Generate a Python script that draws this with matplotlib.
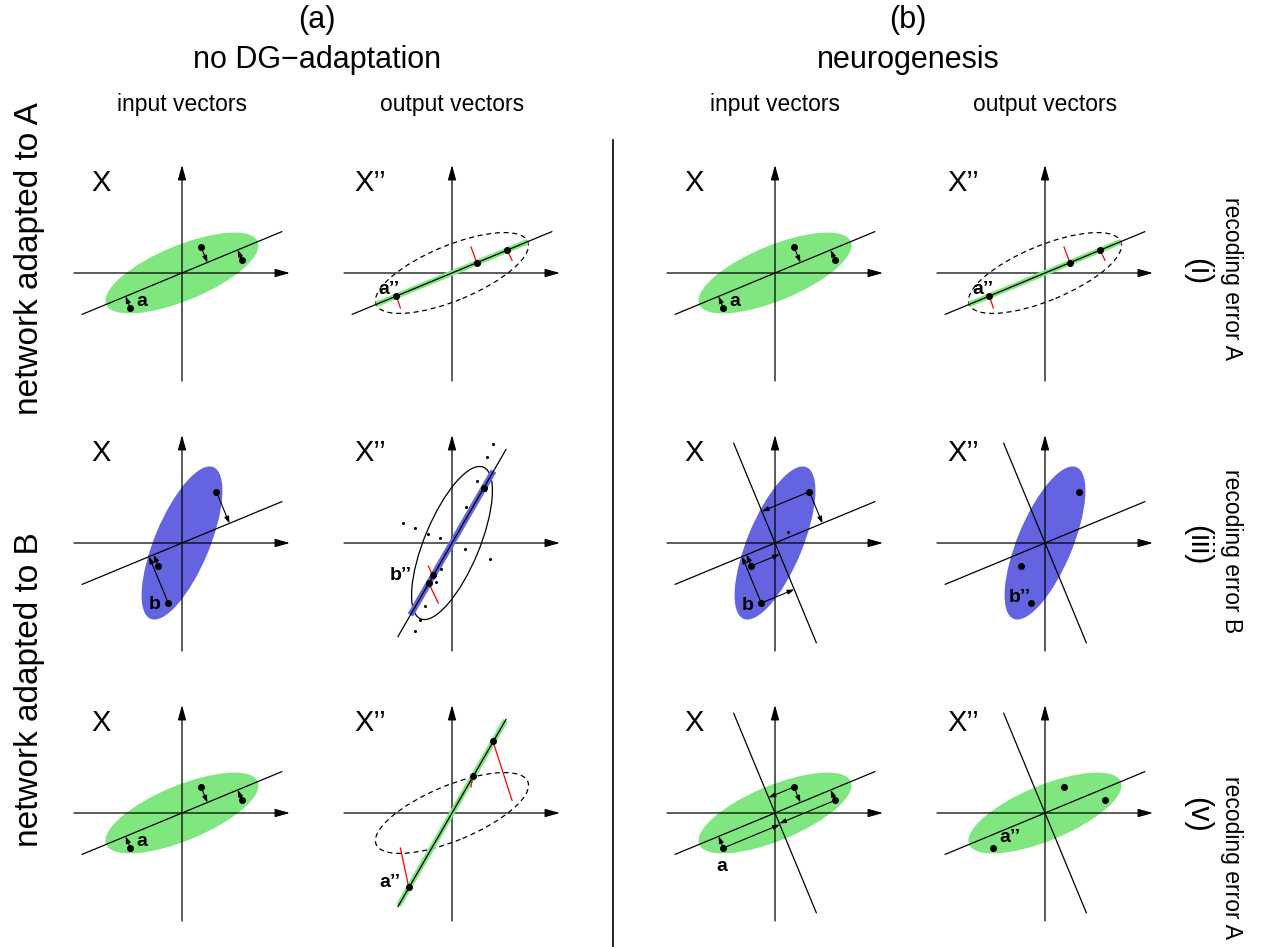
import numpy as np
import matplotlib
matplotlib.use('Agg')
import matplotlib.pyplot as plt
from matplotlib.patches import Ellipse
from matplotlib.lines import Line2D

plt.rcParams['font.family'] = ['Liberation Sans', 'DejaVu Sans']

W, H = 1268, 947
U = 108.0          # pixels per unit inside one panel
GREEN = '#80e680'
BLUE = '#6464e0'

# panel origins (pixels)
col_x = [182, 452, 775, 1045]
row_y = [273, 543, 813]

# ellipse shape and orientations (deg)
ell_a, ell_b = 0.76, 0.255
ang_A, ang_B = 22.5, 67.5
ang_perp = 112.5
ang_out = 60.0

# input patterns
pa_x = [0.176, 0.556, -0.478]
pa_y = [0.241, 0.117, -0.324]
pb_x = [0.318, -0.219, -0.127]
pb_y = [0.475, -0.213, -0.556]

# recoded outputs (same order as the inputs)
ra1_x = [0.23, 0.51, -0.515]
ra1_y = [0.095, 0.21, -0.213]
rb2_x = [0.30, -0.179, -0.216]
rb2_y = [0.51, -0.299, -0.370]
ra3_x = [0.191, 0.377, -0.401]
ra3_y = [0.346, 0.670, -0.685]

# faint scattered samples in the b'' panel
nz_x = [0.377, 0.324, 0.231, 0.133, -0.454, -0.340, -0.222, -0.108, 0.123, 0.355,
        -0.102, -0.145, -0.247, -0.293, -0.346]
nz_y = [0.917, 0.793, 0.571, 0.330, 0.185, 0.139, 0.086, 0.046, -0.056, -0.148,
        -0.241, -0.361, -0.586, -0.710, -0.818]

fig = plt.figure(figsize=(W / 100, H / 100), dpi=100)


def make_ax(col, row):
    L = 1.15
    ox, oy = col_x[col], row_y[row]
    ax = fig.add_axes([(ox - L * U) / W, (H - oy - L * U) / H, 2 * L * U / W, 2 * L * U / H])
    ax.set_xlim(-L, L)
    ax.set_ylim(-L, L)
    ax.axis('off')
    for a, b in [((-1, 0), (1, 0)), ((0, -1), (0, 1))]:
        ax.annotate('', xy=b, xytext=a, annotation_clip=False,
                    arrowprops=dict(arrowstyle='-|>,head_length=0.9,head_width=0.25',
                                    mutation_scale=10, lw=0.9, color='k',
                                    shrinkA=0, shrinkB=0), zorder=2)
    return ax


def direction(ang):
    t = np.deg2rad(ang)
    return np.cos(t), np.sin(t)


def line(ax, ang, half=1.0, **kw):
    c, s = direction(ang)
    ax.plot([-half * c, half * c], [-half * s, half * s], **kw)


def ellipse(ax, ang, fill=None, ls='-'):
    if fill:
        e = Ellipse((0, 0), 2 * ell_a, 2 * ell_b, angle=ang, facecolor=fill,
                    edgecolor='none', zorder=1)
    else:
        e = Ellipse((0, 0), 2 * ell_a, 2 * ell_b, angle=ang, facecolor='none',
                    edgecolor='k', lw=0.9, ls=ls, zorder=1)
    ax.add_patch(e)


def proj_arrows(ax, xs, ys, ang):
    c, s = direction(ang)
    for x, y in zip(xs, ys):
        t = x * c + y * s
        ax.annotate('', xy=(t * c, t * s), xytext=(x, y), annotation_clip=False,
                    arrowprops=dict(arrowstyle='-|>,head_length=1.0,head_width=0.35',
                                    mutation_scale=4, lw=0.8, color='k',
                                    shrinkA=0, shrinkB=0), zorder=4)


def dots(ax, xs, ys):
    ax.plot(xs, ys, 'o', color='k', ms=4, zorder=6)


def label(ax, txt, x, y):
    ax.text(x, y, txt, fontsize=14, fontweight='bold', ha='center', va='center', zorder=7)


def xlabel(ax, out=False):
    ax.text(-0.90 if out else -0.84, 0.833, "X’’" if out else 'X', fontsize=21,
            ha='left', va='center')


def input_A(ax, two=False, lab=(-0.37, -0.262)):
    ellipse(ax, ang_A, GREEN)
    line(ax, ang_A, color='k', lw=0.9, zorder=3)
    proj_arrows(ax, pa_x, pa_y, ang_A)
    if two:
        line(ax, ang_perp, color='k', lw=0.9, zorder=3)
        proj_arrows(ax, pa_x, pa_y, ang_perp)
    dots(ax, pa_x, pa_y)
    label(ax, 'a', *lab)
    xlabel(ax)


def output_A(ax, ang, band, rx, ry, lab):
    ellipse(ax, ang_A, None, ls=(0, (4, 3)))
    line(ax, ang, band, color=GREEN, lw=4, solid_capstyle='butt', zorder=2.5)
    line(ax, ang, color='k', lw=0.9, zorder=3)
    for x0, y0, x1, y1 in zip(pa_x, pa_y, rx, ry):
        ax.plot([x0, x1], [y0, y1], color='red', lw=0.9, zorder=4)
    dots(ax, rx, ry)
    label(ax, 'a’’', *lab)
    xlabel(ax, True)


# ---- row 1: network adapted to A ----
input_A(make_ax(0, 0))
output_A(make_ax(1, 0), ang_A, ell_a, ra1_x, ra1_y, (-0.586, -0.154))
input_A(make_ax(2, 0))
output_A(make_ax(3, 0), ang_A, ell_a, ra1_x, ra1_y, (-0.571, -0.154))

# ---- row 2: network adapted to B, pattern b ----
ax = make_ax(0, 1)
ellipse(ax, ang_B, BLUE)
line(ax, ang_A, color='k', lw=0.9, zorder=3)
proj_arrows(ax, pb_x, pb_y, ang_A)
dots(ax, pb_x, pb_y)
label(ax, 'b', -0.256, -0.571)
xlabel(ax)

ax = make_ax(1, 1)
ellipse(ax, ang_B, None)
line(ax, ang_out, 0.77, color=BLUE, lw=4.5, solid_capstyle='butt', zorder=2.5)
line(ax, ang_out, color='k', lw=0.9, zorder=3)
ax.plot(nz_x, nz_y, 'o', color='k', ms=1.2, zorder=3)
for x0, y0, x1, y1 in zip(pb_x, pb_y, rb2_x, rb2_y):
    ax.plot([x0, x1], [y0, y1], color='red', lw=0.9, zorder=4)
dots(ax, rb2_x, rb2_y)
label(ax, 'b’’', -0.478, -0.299)
xlabel(ax, True)

ax = make_ax(2, 1)
ellipse(ax, ang_B, BLUE)
line(ax, ang_A, color='k', lw=0.9, zorder=3)
line(ax, ang_perp, color='k', lw=0.9, zorder=3)
proj_arrows(ax, pb_x, pb_y, ang_A)
proj_arrows(ax, pb_x, pb_y, ang_perp)
dots(ax, pb_x, pb_y)
ax.plot([0.123], [0.102], 'o', color='k', ms=1.2, zorder=3)
label(ax, 'b', -0.256, -0.58)
xlabel(ax)

ax = make_ax(3, 1)
ellipse(ax, ang_B, BLUE)
line(ax, ang_A, color='k', lw=0.9, zorder=3)
line(ax, ang_perp, color='k', lw=0.9, zorder=3)
dots(ax, pb_x, pb_y)
label(ax, 'b’’', -0.231, -0.509)
xlabel(ax, True)

# ---- row 3: network adapted to B, pattern a ----
input_A(make_ax(0, 2))
output_A(make_ax(1, 2), ang_out, 0.99, ra3_x, ra3_y, (-0.571, -0.648))
input_A(make_ax(2, 2), two=True, lab=(-0.494, -0.494))

ax = make_ax(3, 2)
ellipse(ax, ang_A, GREEN)
line(ax, ang_A, color='k', lw=0.9, zorder=3)
line(ax, ang_perp, color='k', lw=0.9, zorder=3)
dots(ax, pa_x, pa_y)
label(ax, 'a’’', -0.324, -0.231)
xlabel(ax, True)

# ---- titles and side labels ----
def ftext(x, y, s, size, rot=0):
    fig.text(x / W, 1 - y / H, s, fontsize=size, ha='center', va='center', rotation=rot)

ftext(317, 20, '(a)', 22)
ftext(317, 60, 'no DG−adaptation', 22)
ftext(908, 20, '(b)', 22)
ftext(908, 60, 'neurogenesis', 22)
for i, s in enumerate(['input vectors', 'output vectors', 'input vectors', 'output vectors']):
    ftext(col_x[i], 104, s, 16.5)

ftext(30, 259, 'network adapted to A', 24, 90)
ftext(30, 690, 'network adapted to B', 24, 90)

for y, tag, y2, err in [(272, '(i)', 278, 'recoding error A'),
                        (545, '(iii)', 551, 'recoding error B'),
                        (815, '(v)', 857, 'recoding error A')]:
    ftext(1197, y, tag, 22, -90)
    ftext(1232, y2, err, 16.5, -90)

fig.add_artist(Line2D([613 / W, 613 / W], [1 - 140 / H, 0], color='k', lw=1.2))

fig.savefig('out.png', dpi=100)
